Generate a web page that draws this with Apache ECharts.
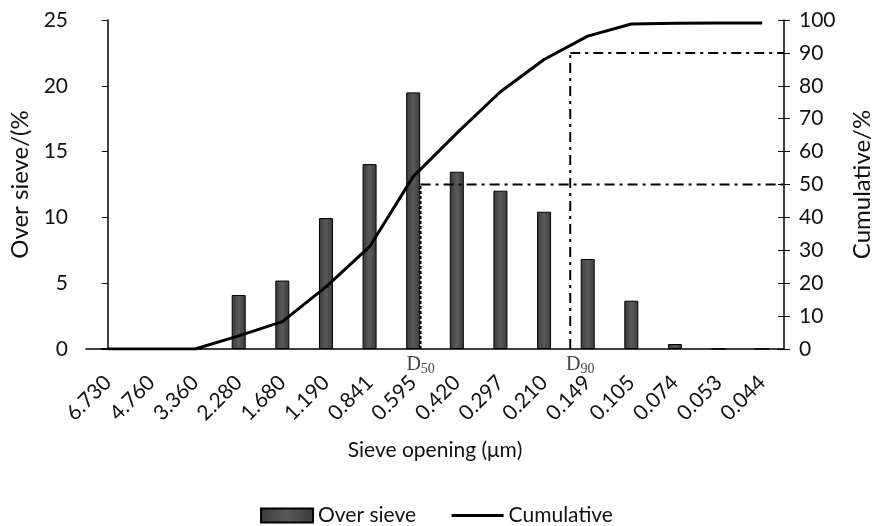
<!DOCTYPE html>
<html>
<head>
<meta charset="utf-8">
<script src="https://cdn.jsdelivr.net/npm/echarts@6/dist/echarts.min.js"></script>
<style>
  html, body { margin: 0; padding: 0; background: #fff; }
  #chart { width: 873px; height: 526px; }
</style>
</head>
<body>
<div id="chart"></div>
<script>
  // sieve openings, largest first
  const sieves = ['6.730', '4.760', '3.360', '2.280', '1.680', '1.190', '0.841', '0.595',
    '0.420', '0.297', '0.210', '0.149', '0.105', '0.074', '0.053', '0.044']
  // % retained on each sieve
  const overSieve = [0, 0, 0, 4.1, 5.2, 9.95, 14.05, 19.5, 13.47, 12.03, 10.43, 6.84, 3.67, 0.38, 0, 0]
  // cumulative %
  const cumulative = [0, 0, 0, 4.0, 8.3, 18.9, 31.1, 52.4, 65.6, 78.2, 88.0, 95.1, 98.8, 99.0, 99.1, 99.1]
  // D50 / D90 marks: position in category units, cumulative %
  const d50 = [7.17, 50]
  const d90 = [10.6, 90]
  const leftTicks = [0, 25, 5]
  const rightTicks = [0, 100, 10]

  const font = 'Lato, "Open Sans", sans-serif'
  const serif = '"Liberation Serif", "DejaVu Serif", serif'
  const lastIdx = sieves.length - 0.5

  const chart = echarts.init(document.getElementById('chart'))

  const refLine = (data, dash) => ({
    type: 'line',
    xAxisIndex: 1,
    yAxisIndex: 1,
    data: data,
    symbol: 'none',
    silent: true,
    lineStyle: { color: '#000', width: 2, type: dash }
  })

  const dLabel = (sub, offX) => ({
    show: true,
    position: 'bottom',
    distance: 5,
    offset: [offX, 0],
    formatter: '{d|D}{s|' + sub + '}',
    rich: {
      d: { fontFamily: serif, fontSize: 20, color: '#111' },
      s: { fontFamily: serif, fontSize: 14, color: '#111', padding: [8, 0, 0, 0] }
    }
  })

  chart.setOption({
    animation: false,
    textStyle: { fontFamily: font },
    grid: { left: 86, right: 89, top: 20, bottom: 177, containLabel: false, outerBoundsMode: 'none' },
    legend: {
      top: 500,
      left: 'center',
      itemGap: 34,
      itemWidth: 52,
      itemHeight: 14,
      data: [
        { name: 'Over sieve', icon: 'rect' },
        { name: 'Cumulative', itemStyle: { opacity: 0 }, lineStyle: { width: 3, color: '#000' } }
      ],
      textStyle: { fontSize: 21, color: '#111', fontFamily: font }
    },
    xAxis: [{
      type: 'category',
      data: sieves,
      name: 'Sieve opening (μm)',
      nameLocation: 'middle',
      nameGap: 91,
      nameTextStyle: { fontSize: 21, color: '#111' },
      axisLine: { lineStyle: { color: '#000', width: 1.5 } },
      axisTick: { length: 6, lineStyle: { color: '#000' } },
      axisLabel: { rotate: 45, fontSize: 21, color: '#111', margin: 30 },
      splitLine: { show: false }
    }, {
      type: 'value',
      min: -0.5,
      max: lastIdx,
      show: false
    }],
    yAxis: [{
      type: 'value',
      min: leftTicks[0],
      max: leftTicks[1],
      interval: leftTicks[2],
      name: 'Over sieve/(%',
      nameLocation: 'middle',
      nameGap: 53,
      nameTextStyle: { fontSize: 24, color: '#111' },
      axisLine: { show: true, lineStyle: { color: '#000', width: 1.5 } },
      axisTick: { show: true, length: 6, lineStyle: { color: '#000' } },
      axisLabel: { fontSize: 21, color: '#111', margin: 18 },
      splitLine: { show: false }
    }, {
      type: 'value',
      position: 'right',
      min: rightTicks[0],
      max: rightTicks[1],
      interval: rightTicks[2],
      name: 'Cumulative/%',
      nameLocation: 'middle',
      nameGap: 66,
      nameRotate: 90,
      nameTextStyle: { fontSize: 24, color: '#111' },
      axisLine: { show: true, lineStyle: { color: '#000', width: 1.5 } },
      axisTick: { show: true, length: 6, lineStyle: { color: '#000' } },
      axisLabel: { fontSize: 21, color: '#111', margin: 15 },
      splitLine: { show: false }
    }, {
      // inner half of the crossing ticks on the right axis
      type: 'value',
      position: 'right',
      min: rightTicks[0],
      max: rightTicks[1],
      interval: rightTicks[2],
      axisLine: { show: false },
      axisTick: { show: true, inside: true, length: 6, lineStyle: { color: '#000' } },
      axisLabel: { show: false },
      splitLine: { show: false }
    }],
    series: [{
      name: 'Over sieve',
      type: 'bar',
      data: overSieve,
      barWidth: 14,
      itemStyle: {
        color: new echarts.graphic.LinearGradient(0, 0, 1, 0, [
          { offset: 0, color: '#3a3a3a' },
          { offset: 0.5, color: '#5a5a5a' },
          { offset: 1, color: '#3a3a3a' }
        ]),
        borderColor: '#000',
        borderWidth: 1
      }
    }, {
      name: 'Cumulative',
      type: 'line',
      yAxisIndex: 1,
      data: cumulative,
      symbol: 'none',
      itemStyle: { color: '#000' },
      lineStyle: { color: '#000', width: 3 },
      z: 5
    },
    refLine([[d50[0], 0], [d50[0], d50[1]]], [3, 2]),
    refLine([[d50[0], d50[1]], [lastIdx, d50[1]]], [10, 5, 3, 5]),
    refLine([[d90[0], 0], [d90[0], d90[1]]], [10, 5, 3, 5]),
    refLine([[d90[0], d90[1]], [lastIdx, d90[1]]], [10, 5, 3, 5]),
    {
      type: 'scatter',
      xAxisIndex: 1,
      yAxisIndex: 1,
      symbolSize: 0,
      silent: true,
      data: [
        { value: [d50[0], 0], label: dLabel('50', 0) },
        { value: [d90[0], 0], label: dLabel('90', 10) }
      ]
    }]
  })
</script>
</body>
</html>
